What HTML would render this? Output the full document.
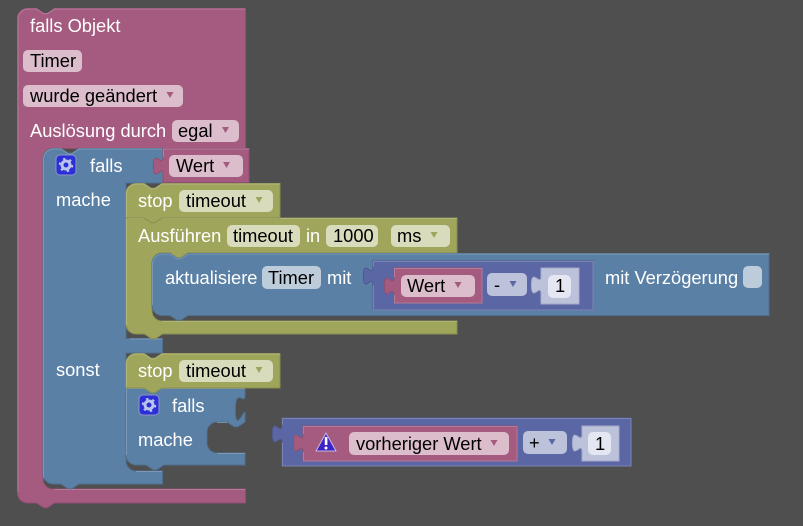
<!DOCTYPE html>
<html><head><meta charset="utf-8"><style>
html,body{margin:0;padding:0;background:#4f4f4f;width:803px;height:526px;overflow:hidden}
svg{display:block}
text{font-family:"Liberation Sans",sans-serif;font-size:18.3px}
.w{fill:#fff}.k{fill:#000}
.pink{fill:#a55b80;stroke:#8f4f6f}
.blue{fill:#5b80a5;stroke:#4f6f8f}
.green{fill:#9fa55b;stroke:#8a8f4f}
.purple{fill:#5b67a5;stroke:#4f598f}
.hp,.hb,.hg,.hu{fill:none;stroke-width:1;stroke-opacity:.7}
.hp{stroke:#c08da6}.hb{stroke:#8ca6c0}.hg{stroke:#bcc08c}.hu{stroke:#8c95c0}
.fp{fill:#dbbdcc}.fb{fill:#bdccdb}.fg{fill:#d9dbbd}.fu{fill:#bdc2db}.fl{fill:#e4e6f1}
</style></head><body>
<svg width="803" height="526" viewBox="0 0 803 526" xmlns="http://www.w3.org/2000/svg">
<!-- pink hat block -->
<path class="pink" d="M17.5 18.500a10 10 0 0 1 10-10H36.500l7.200 4.800 3.600 0 7.200-4.800H245.500V148.500H53a10 10 0 0 0-10 10V479a10 10 0 0 0 10 10H245.500V503H54.500l-7.200 4.800-3.600 0-7.200-4.800H27.500a10 10 0 0 1-10-10Z"/>
<path class="hp" d="M18 492V18.500a10 10 0 0 1 9.500-9.500H36.500l7.200 4.800 3.600 0 7.200-4.800H245M54 489.500H245"/>
<!-- blue falls outer -->
<path class="blue" d="M43 158.500a10 10 0 0 1 10-10H61l7.200 4.800 3.600 0 7.200-4.800H163V183H126V338.500H162.500V353H126V461a10 10 0 0 0 10 10H162.500V484H79l-7.200 4.800-3.600 0-7.200-4.800H53a10 10 0 0 1-10-10Z"/>
<path class="hb" d="M43.500 478V158.500a10 10 0 0 1 9.500-9.500H61l7.200 4.800 3.600 0 7.200-4.800H162M130 339H162M136 471.500H162"/>
<!-- Wert -->
<path class="pink" d="M163 148.500H249V182.500H163V175c0-12-9.600 9.600-9.600-9s9.600 3 9.600-9Z"/>
<path class="hp" d="M163.500 157V149H249"/>
<!-- Ausführen -->
<path class="green" d="M126 218H457V253H188l-7.200 4.800-3.600 0-7.200-4.800H162a10 10 0 0 0-10 10V311a10 10 0 0 0 10 10H457V334H162.500l-7.200 4.800-3.600 0-7.200-4.800H136a10 10 0 0 1-10-10Z"/>
<path class="hg" d="M126.500 325V218.500H457M162 321.500H457"/>
<!-- stop 1 -->
<path class="green" d="M126 193.500a10 10 0 0 1 10-10H144l7.200 4.800 3.600 0 7.200-4.800H280V218H162l-7.200 4.800-3.600 0-7.200-4.800H126Z"/>
<path class="hg" d="M126.500 217V193.500a10 10 0 0 1 9.500-9.500H144l7.200 4.800 3.600 0 7.200-4.800H280"/>
<!-- aktualisiere -->
<path class="blue" d="M152 263.500a10 10 0 0 1 10-10H170l7.200 4.800 3.600 0 7.200-4.800H769V315.500H188l-7.200 4.800-3.600 0-7.200-4.800H162a10 10 0 0 1-10-10Z"/>
<path class="hb" d="M152.500 305V263.500a10 10 0 0 1 9.500-9.500H170l7.200 4.800 3.600 0 7.200-4.800H769"/>
<!-- minus block -->
<path class="purple" d="M373 261H593V310H373V285c0-12-9.600 9.600-9.600-9s9.600 3 9.600-9Z"/>
<path class="hu" d="M373.500 267V261.500H593V310H373.500V285"/>
<!-- Wert inner -->
<path class="pink" d="M394 268H482V303H394V295c0-12-9.600 9.600-9.600-9s9.600 3 9.600-9Z"/>
<path class="hp" d="M394.500 277V268.500H482V303H394.500V295"/>
<!-- number 1 -->
<path d="M541 268H579V304H541V294c0-12-9.600 9.600-9.600-9s9.600 3 9.600-9Z" fill="#bdc2db" stroke="#a3a9c9"/>
<!-- stop 2 / falls 2 -->
<path class="blue" d="M126 388H245V395c0 12-9.600-9.600-9.600 15s9.600-3 9.600 3V422l-7.200 4.800-3.600 0-7.200-4.800H217a10 10 0 0 0-10 10V443a10 10 0 0 0 10 10H245V465H164l-7.200 4.800-3.600 0-7.200-4.800H136a10 10 0 0 1-10-10Z"/>
<path class="hb" d="M126.500 455V388.500H245M217 453.500H245M227 422.500H217"/>
<path class="green" d="M126 363.500a10 10 0 0 1 10-10H144l7.200 4.800 3.600 0 7.200-4.800H280V388H162l-7.200 4.800-3.600 0-7.200-4.800H126Z"/>
<path class="hg" d="M126.500 387V363.500a10 10 0 0 1 9.500-9.500H144l7.200 4.800 3.600 0 7.200-4.800H280"/>
<!-- plus block -->
<path class="purple" d="M282 418H631V466H282V443c0-12-9.600 9.600-9.600-9s9.600 3 9.600-9Z"/>
<path class="hu" d="M282.500 425V418.500H631V466H282.500V443"/>
<path class="pink" d="M303 426H517V461H303V452c0-12-9.600 9.600-9.600-9s9.600 3 9.600-9Z"/>
<path class="hp" d="M303.500 434V426.500H517V461H303.500V452"/>
<path d="M582 426H619V461H582V452c0-12-9.600 9.600-9.600-9s9.600 3 9.600-9Z" fill="#bdc2db" stroke="#a3a9c9"/>

<!-- fields -->
<rect class="fp" x="23" y="50" width="59" height="22" rx="5"/>
<rect class="fp" x="23" y="85" width="160" height="22" rx="5"/>
<rect class="fp" x="172" y="120" width="67" height="22" rx="5"/>
<rect class="fp" x="169" y="155" width="74" height="22" rx="5"/>
<rect class="fg" x="179" y="190" width="94" height="22" rx="5"/>
<rect class="fg" x="227" y="225" width="73" height="22" rx="5"/>
<rect class="fg" x="326" y="225" width="52" height="22" rx="5"/>
<rect class="fg" x="391" y="225" width="59" height="22" rx="5"/>
<rect class="fb" x="262" y="266" width="59" height="23" rx="5"/>
<rect class="fp" x="401" y="275" width="74" height="22" rx="5"/>
<rect class="fu" x="487" y="273" width="40" height="23" rx="5"/>
<rect class="fl" x="548" y="275" width="23" height="23" rx="5"/>
<rect class="fb" x="743" y="266" width="19" height="22" rx="5"/>
<rect class="fg" x="179" y="360" width="94" height="22" rx="5"/>
<rect class="fp" x="349" y="432" width="160" height="23" rx="5"/>
<rect class="fu" x="523" y="431" width="44" height="23" rx="5"/>
<rect class="fl" x="588" y="432" width="23" height="23" rx="5"/>

<!-- arrows -->
<g fill="#a55b80">
<polygon points="166.500,92 173.500,92 170,98"/>
<polygon points="222,127 229,127 225.500,133"/>
<polygon points="223,162 230,162 226.500,168"/>
<polygon points="454.500,282 461.500,282 458,288"/>
<polygon points="490.500,440 497.500,440 494,446"/>
</g>
<g fill="#9fa55b">
<polygon points="255.500,197 262.500,197 259,203"/>
<polygon points="430.500,232 437.500,232 434,238"/>
<polygon points="255.500,367 262.500,367 259,373"/>
</g>
<g fill="#5b67a5">
<polygon points="509.500,281 516.500,281 513,287"/>
<polygon points="548.500,439 555.500,439 552,445"/>
</g>

<!-- text -->
<text class="w" x="30" y="32">falls Objekt</text>
<text class="k" x="30" y="67">Timer</text>
<text class="k" x="30" y="102">wurde geändert</text>
<text class="w" x="30" y="137">Auslösung durch</text>
<text class="k" x="178" y="137">egal</text>
<text class="w" x="90" y="172">falls</text>
<text class="k" x="176" y="172">Wert</text>
<text class="w" x="56" y="206">mache</text>
<text class="w" x="138" y="207">stop</text>
<text class="k" x="186" y="207">timeout</text>
<text class="w" x="138" y="242">Ausführen</text>
<text class="k" x="233" y="242">timeout</text>
<text class="w" x="306" y="242">in</text>
<text class="k" x="333" y="242">1000</text>
<text class="k" x="397" y="242">ms</text>
<text class="w" x="165" y="284">aktualisiere</text>
<text class="k" x="268" y="284">Timer</text>
<text class="w" x="327" y="284">mit</text>
<text class="k" x="407" y="292">Wert</text>
<text class="k" x="494" y="291">-</text>
<text class="k" x="555" y="292">1</text>
<text class="w" x="605" y="284">mit Verzögerung</text>
<text class="w" x="56" y="376">sonst</text>
<text class="w" x="138" y="377">stop</text>
<text class="k" x="186" y="377">timeout</text>
<text class="w" x="172" y="412">falls</text>
<text class="w" x="138" y="446">mache</text>
<text class="k" x="356" y="450">vorheriger Wert</text>
<text class="k" x="529" y="449">+</text>
<text class="k" x="595" y="450">1</text>

<!-- gear icons -->
<rect x="56" y="155" width="20" height="20" rx="4" fill="#2a2fd8" stroke="#8c95c8"/>
<circle cx="66" cy="165" r="4" fill="none" stroke="#bcc4ee" stroke-width="3"/>
<circle cx="66" cy="165" r="6.200" fill="none" stroke="#bcc4ee" stroke-width="2" stroke-dasharray="2.400 4.100"/>
<rect x="139" y="395" width="20" height="20" rx="4" fill="#2a2fd8" stroke="#8c95c8"/>
<circle cx="149" cy="405" r="4" fill="none" stroke="#bcc4ee" stroke-width="3"/>
<circle cx="149" cy="405" r="6.200" fill="none" stroke="#bcc4ee" stroke-width="2" stroke-dasharray="2.400 4.100"/>

<!-- warning icon -->
<polygon points="326,433 336,451 316,451" fill="#3a22c8" stroke="#c9b8dc" stroke-linejoin="round"/>
<rect x="324.800" y="437" width="2.600" height="8" fill="#fff"/>
<circle cx="326" cy="448" r="1.500" fill="#fff"/>
</svg>
</body></html>
